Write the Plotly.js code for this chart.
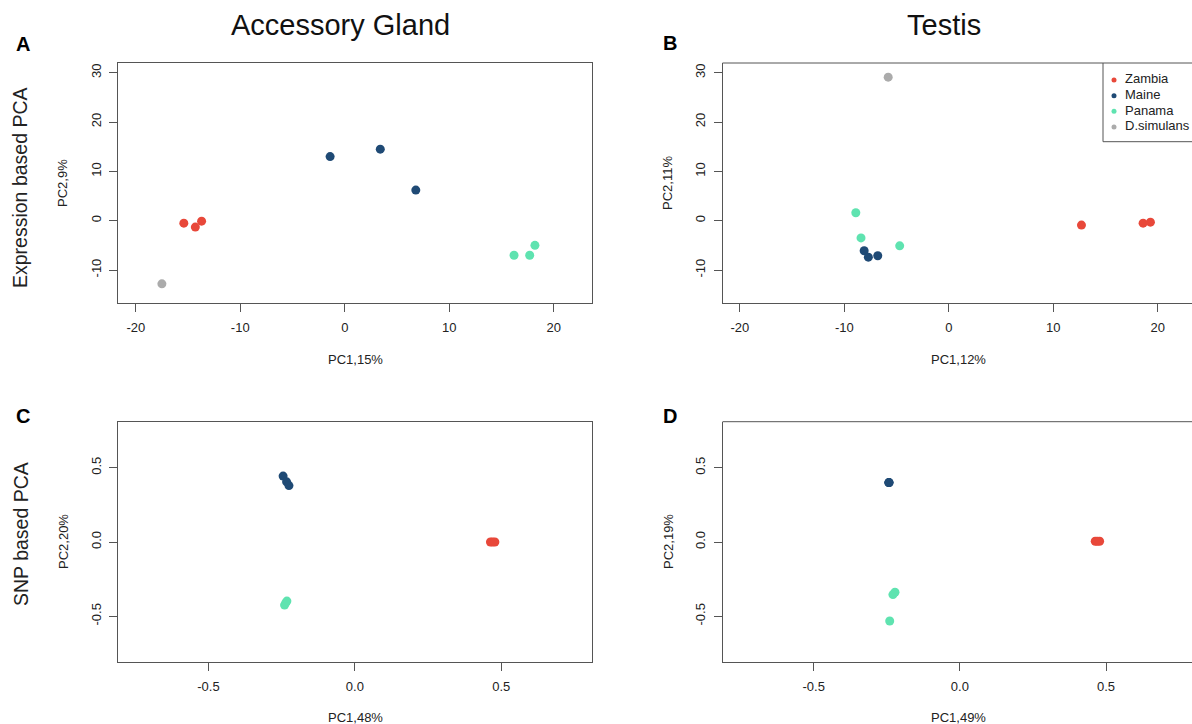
<!DOCTYPE html>
<html>
<head>
<meta charset="utf-8">
<script src="https://cdn.plot.ly/plotly-3.0.1.min.js"></script>
<style>html,body{margin:0;padding:0;background:#fff;}#chart{width:1192px;height:724px;}</style>
</head>
<body>
<div id="chart"></div>
<script>
// ---------- DATA ----------
const groups = ["Zambia", "Maine", "Panama", "D.simulans"];
const groupColors = ["#E8483A", "#1F4A75", "#5FE3B0", "#ABABAB"];

// A: Accessory Gland, expression PCA (PC1,15% / PC2,9%)
const agExprZambiaPC1 = [-15.4, -14.3, -13.7];
const agExprZambiaPC2 = [-0.5, -1.3, -0.1];
const agExprMainePC1 = [-1.4, 3.4, 6.8];
const agExprMainePC2 = [13.0, 14.5, 6.2];
const agExprPanamaPC1 = [16.2, 17.7, 18.2];
const agExprPanamaPC2 = [-7.0, -7.0, -5.0];
const agExprDsimPC1 = [-17.5];
const agExprDsimPC2 = [-12.8];

// B: Testis, expression PCA (PC1,12% / PC2,11%)
const tsExprZambiaPC1 = [12.7, 18.6, 19.3];
const tsExprZambiaPC2 = [-0.9, -0.5, -0.3];
const tsExprMainePC1 = [-8.1, -7.7, -6.8];
const tsExprMainePC2 = [-6.1, -7.4, -7.1];
const tsExprPanamaPC1 = [-8.9, -8.4, -4.7];
const tsExprPanamaPC2 = [1.6, -3.5, -5.1];
const tsExprDsimPC1 = [-5.8];
const tsExprDsimPC2 = [29.1];

// C: Accessory Gland, SNP PCA (PC1,48% / PC2,20%)
const agSnpZambiaPC1 = [0.463, 0.470, 0.478];
const agSnpZambiaPC2 = [0.0, 0.0, 0.0];
const agSnpMainePC1 = [-0.245, -0.233, -0.225];
const agSnpMainePC2 = [0.444, 0.405, 0.380];
const agSnpPanamaPC1 = [-0.240, -0.236, -0.232];
const agSnpPanamaPC2 = [-0.425, -0.410, -0.398];

// D: Testis, SNP PCA (PC1,49% / PC2,19%)
const tsSnpZambiaPC1 = [0.463, 0.470, 0.478];
const tsSnpZambiaPC2 = [0.005, 0.005, 0.005];
const tsSnpMainePC1 = [-0.243, -0.243, -0.242];
const tsSnpMainePC2 = [0.400, 0.400, 0.400];
const tsSnpPanamaPC1 = [-0.222, -0.229, -0.240];
const tsSnpPanamaPC2 = [-0.338, -0.354, -0.532];

const exprXTicks = [-20, -10, 0, 10, 20];
const exprXTickText = ["-20", "-10", "0", "10", "20"];
const exprYTicks = [-10, 0, 10, 20, 30];
const exprYTickText = ["-10", "0", "10", "20", "30"];
const snpTicks = [-0.5, 0, 0.5];
const snpTickText = ["-0.5", "0.0", "0.5"];

const panelTitles = ["Accessory Gland", "Testis"];
const rowTitles = ["Expression based PCA", "SNP based PCA"];
const panelLetters = ["A", "B", "C", "D"];
const xTitles = ["PC1,15%", "PC1,12%", "PC1,48%", "PC1,49%"];
const yTitles = ["PC2,9%", "PC2,11%", "PC2,20%", "PC2,19%"];

// ---------- LAYOUT HELPERS ----------
const W = 1192, H = 724;
const px = v => v / W;
const py = v => 1 - v / H;
const FONT = "Liberation Sans, Arial, Helvetica, sans-serif";
const LINE = "#555";
const TXT = "#222";

function pts(xa, ya, gi, xref, yref) {
  return {
    type: "scatter", mode: "markers", x: xa, y: ya,
    xaxis: xref, yaxis: yref, name: groups[gi], showlegend: false,
    marker: {color: groupColors[gi], size: 9, line: {width: 0}},
    hoverinfo: "x+y+name"
  };
}

const traces = [
  pts(agExprZambiaPC1, agExprZambiaPC2, 0, "x", "y"),
  pts(agExprMainePC1, agExprMainePC2, 1, "x", "y"),
  pts(agExprPanamaPC1, agExprPanamaPC2, 2, "x", "y"),
  pts(agExprDsimPC1, agExprDsimPC2, 3, "x", "y"),
  pts(tsExprZambiaPC1, tsExprZambiaPC2, 0, "x2", "y2"),
  pts(tsExprMainePC1, tsExprMainePC2, 1, "x2", "y2"),
  pts(tsExprPanamaPC1, tsExprPanamaPC2, 2, "x2", "y2"),
  pts(tsExprDsimPC1, tsExprDsimPC2, 3, "x2", "y2"),
  pts(agSnpZambiaPC1, agSnpZambiaPC2, 0, "x3", "y3"),
  pts(agSnpMainePC1, agSnpMainePC2, 1, "x3", "y3"),
  pts(agSnpPanamaPC1, agSnpPanamaPC2, 2, "x3", "y3"),
  pts(tsSnpZambiaPC1, tsSnpZambiaPC2, 0, "x4", "y4"),
  pts(tsSnpMainePC1, tsSnpMainePC2, 1, "x4", "y4"),
  pts(tsSnpPanamaPC1, tsSnpPanamaPC2, 2, "x4", "y4"),
  // legend (drawn as a tiny subplot keyed on the group list)
  {
    type: "scatter", mode: "markers",
    x: groups.map(() => 0), y: groups.map((g, i) => i),
    marker: {color: groupColors, size: 5},
    xaxis: "x5", yaxis: "y5", showlegend: false, cliponaxis: false, hoverinfo: "skip"
  },
  {
    type: "scatter", mode: "text",
    x: groups.map(() => 1), y: groups.map((g, i) => i),
    text: groups, textposition: "middle right",
    textfont: {family: FONT, size: 13, color: TXT},
    xaxis: "x5", yaxis: "y5", showlegend: false, cliponaxis: false, hoverinfo: "skip"
  }
];

function xax(domain, range, tickvals, ticktext, mirror) {
  return {
    domain: domain, range: range, autorange: false,
    tickmode: "array", tickvals: tickvals, ticktext: ticktext,
    ticks: "outside", ticklen: 8, tickwidth: 1, tickcolor: LINE,
    ticklabelstandoff: 4,
    showline: true, linecolor: LINE, linewidth: 1, mirror: mirror,
    showgrid: false, zeroline: false,
    tickfont: {family: FONT, size: 13, color: TXT}
  };
}
function yax(domain, range, tickvals, ticktext, mirror, anchor) {
  const a = xax(domain, range, tickvals, ticktext, mirror);
  a.tickangle = -90;
  a.ticklabelstandoff = 3;
  a.anchor = anchor;
  return a;
}

const dA = [px(117.9), px(592.4)];
const dB = [px(722.5), 1];
const dTop = [py(303), py(63)];
const dBot = [py(662.3), py(421.7)];

const layout = {
  width: W, height: H,
  margin: {l: 0, r: 0, t: 0, b: 0, pad: 0},
  paper_bgcolor: "#fff", plot_bgcolor: "#fff",
  showlegend: false,
  font: {family: FONT, color: TXT},
  xaxis: Object.assign(xax(dA, [-21.71, 23.7], exprXTicks, exprXTickText, true), {anchor: "y"}),
  yaxis: yax(dTop, [-16.69, 31.97], exprYTicks, exprYTickText, true, "x"),
  xaxis2: Object.assign(xax(dB, [-21.66, 23.28], exprXTicks, exprXTickText, false), {anchor: "y2"}),
  yaxis2: yax(dTop, [-16.69, 31.97], exprYTicks, exprYTickText, false, "x2"),
  xaxis3: Object.assign(xax(dA, [-0.809, 0.811], snpTicks, snpTickText, true), {anchor: "y3"}),
  yaxis3: yax(dBot, [-0.81, 0.81], snpTicks, snpTickText, true, "x3"),
  xaxis4: Object.assign(xax(dB, [-0.812, 0.794], snpTicks, snpTickText, false), {anchor: "y4"}),
  yaxis4: yax(dBot, [-0.81, 0.81], snpTicks, snpTickText, false, "x4"),
  xaxis5: {domain: [px(1103), 1], range: [-1, 7.09], autorange: false, visible: false, anchor: "y5"},
  yaxis5: {domain: [py(141.7), py(63)], range: [3.94, -1.085], autorange: false, visible: false, anchor: "x5"},
  shapes: [
    {type: "line", xref: "x2 domain", yref: "y2 domain", x0: 0, x1: 1, y0: 1, y1: 1, line: {color: LINE, width: 1}},
    {type: "line", xref: "x4 domain", yref: "y4 domain", x0: 0, x1: 1, y0: 1, y1: 1, line: {color: LINE, width: 1}},
    {type: "line", xref: "paper", yref: "paper", x0: px(1103), x1: px(1103), y0: py(141.7), y1: py(63), line: {color: LINE, width: 1}},
    {type: "line", xref: "paper", yref: "paper", x0: px(1103), x1: 1, y0: py(141.7), y1: py(141.7), line: {color: LINE, width: 1}}
  ],
  annotations: []
};

function ann(text, x, y, size, opts) {
  layout.annotations.push(Object.assign({
    text: text, xref: "paper", yref: "paper", x: px(x), y: py(y),
    xanchor: "center", yanchor: "middle", showarrow: false,
    font: {family: FONT, size: size, color: TXT}
  }, opts || {}));
}

// column titles
ann(panelTitles[0], 340, 25, 29, {font: {family: FONT, size: 29, color: "#111"}});
ann(panelTitles[1], 944, 25, 29, {font: {family: FONT, size: 29, color: "#111"}});
// row titles
ann(rowTitles[0], 20, 188, 19.5, {textangle: -90});
ann(rowTitles[1], 21, 534, 19.5, {textangle: -90});
// panel letters
const letterPos = [[23, 44], [670, 43], [23, 416], [670, 416]];
panelLetters.forEach((l, i) => ann("<b>" + l + "</b>", letterPos[i][0], letterPos[i][1], 20,
  {font: {family: FONT, size: 20, color: "#000"}}));
// axis titles
const xTitlePos = [[355, 359], [958, 359], [355, 717], [958, 717]];
const yTitlePos = [[63, 183], [668, 183], [63, 542], [668, 542]];
xTitles.forEach((t, i) => ann(t, xTitlePos[i][0], xTitlePos[i][1], 13));
yTitles.forEach((t, i) => ann(t, yTitlePos[i][0], yTitlePos[i][1], 13, {textangle: -90}));

Plotly.newPlot("chart", traces, layout, {staticPlot: true, displayModeBar: false});
</script>
</body>
</html>
